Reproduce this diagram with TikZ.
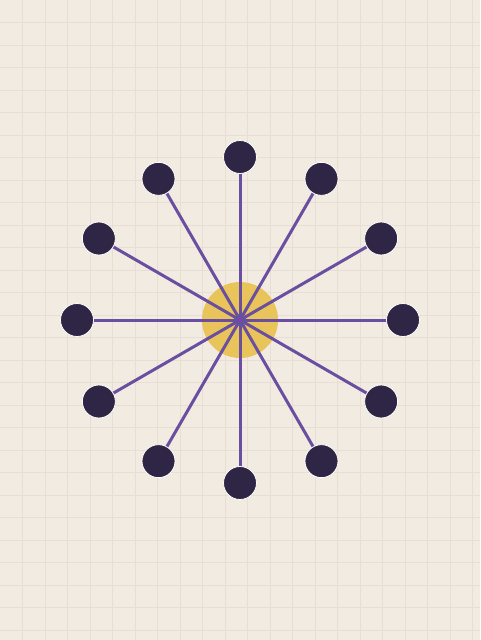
\documentclass[tikz,border=0pt]{standalone}
\usetikzlibrary{calc}
\definecolor{bg}{HTML}{F2EBE2}
\definecolor{gridc}{HTML}{E9DED4}
\definecolor{spoke}{HTML}{6A4FA0}
\definecolor{dotc}{HTML}{2F2646}
\definecolor{hub}{HTML}{E9C45A}
\tikzset{
  dotnode/.style={circle, fill=dotc, draw=white, line width=0.8pt, minimum size=33pt, inner sep=0pt},
  spokeline/.style={draw=spoke, line width=3pt},
}
\begin{document}
\begin{tikzpicture}[x=1pt,y=-1pt]
\fill[bg] (0,0) rectangle (480,640);
\useasboundingbox (0,0) rectangle (480,640);
\foreach \i in {1,...,21} {\draw[gridc, line width=1pt] (\i*22.5,0) -- (\i*22.5,640);}
\foreach \i in {1,...,28} {\draw[gridc, line width=1pt] (0,\i*22.5) -- (480,\i*22.5);}
\node[circle, fill=hub, minimum size=76pt, inner sep=0pt] (hubc) at (240,320) {};
\coordinate (c) at (240,320);
\foreach \k in {0,...,11} {
  \path ($(c)+({\k*30}:163)$) coordinate (p\k);
}
\foreach \k in {0,...,11} {
  \draw[spokeline] (c) -- (p\k);
}
\foreach \k in {0,...,11} {
  \node[dotnode] (d\k) at (p\k) {};
}
\node[circle, fill=spoke, minimum size=12pt, inner sep=0pt] (hubdot) at (c) {};
\end{tikzpicture}
\end{document}
